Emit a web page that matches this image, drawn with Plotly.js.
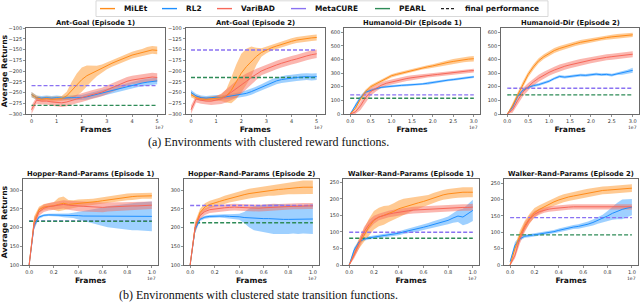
<!DOCTYPE html>
<html><head><meta charset="utf-8">
<script src="https://cdn.plot.ly/plotly-3.0.1.min.js"></script>
<style>html,body{margin:0;padding:0;background:#fff}#c{width:640px;height:302px}</style>
</head><body><div id="c"></div>
<script>
// ---------- categories / labels ----------
const methods = ["MiLEt", "RL2", "VariBAD", "MetaCURE", "PEARL"];
const titles = ["Ant-Goal (Episode 1)", "Ant-Goal (Episode 2)", "Humanoid-Dir (Episode 1)", "Humanoid-Dir (Episode 2)",
  "Hopper-Rand-Params (Episode 1)", "Hopper-Rand-Params (Episode 2)", "Walker-Rand-Params (Episode 1)", "Walker-Rand-Params (Episode 2)"];
const captionA = "(a) Environments with clustered reward functions.";
const captionB = "(b) Environments with clustered state transition functions.";

// ---------- x grids (units of 1e7 frames) ----------
const antX = [0,0.2,0.4,0.6,0.8,1.0,1.2,1.4,1.6,1.8,2.0,2.2,2.4,2.6,2.8,3.0,3.2,3.4,3.6,3.8,4.0,4.2,4.4,4.6,4.8,5.0];
const humX = [0,0.125,0.25,0.375,0.5,0.625,0.75,0.875,1.0,1.125,1.25,1.375,1.5,1.625,1.75,1.875,2.0,2.125,2.25,2.375,2.5,2.625,2.75,2.875,3.0];
const randX = [0,0.04,0.08,0.12,0.16,0.2,0.24,0.28,0.32,0.36,0.4,0.44,0.48,0.52,0.56,0.6,0.64,0.68,0.72,0.76,0.8,0.84,0.88,0.92,0.96,1.0];

// ---------- Ant-Goal Ep 1 ----------
const ant1_MiLEt = [-255,-262,-266,-264,-266,-265,-264,-258,-245,-232,-220,-211,-205,-200,-194,-188,-182,-177,-172,-167,-163,-160,-157,-153,-151,-152];
const ant1_MiLEt_sd = [6,5,5,5,6,6,6,10,20,26,28,24,18,12,9,8,8,8,8,8,8,8,8,9,9,9];
const ant1_RL2 = [-255,-262,-263,-262,-263,-262,-263,-262,-262,-262,-262,-260,-257,-254,-251,-248,-245,-242,-239,-236,-233,-230,-228,-226,-224,-223];
const ant1_RL2_sd = [6,5,5,5,5,5,5,5,6,6,6,7,7,7,7,7,7,7,7,8,8,8,8,8,8,8];
const ant1_VariBAD = [-290,-268,-270,-270,-272,-273,-274,-272,-268,-265,-262,-258,-255,-252,-249,-244,-239,-234,-229,-224,-221,-219,-217,-215,-214,-215];
const ant1_VariBAD_sd = [10,8,8,8,9,9,10,10,10,10,10,10,10,10,10,10,10,10,10,10,10,10,10,10,10,10];
// ---------- Ant-Goal Ep 2 ----------
const ant2_MiLEt = [-255,-262,-265,-266,-265,-264,-262,-258,-245,-225,-205,-190,-178,-166,-157,-151,-146,-142,-138,-134,-131,-128,-126,-124,-123,-122];
const ant2_MiLEt_sd = [6,5,5,5,6,6,8,15,30,40,45,42,35,20,10,8,7,7,7,7,7,7,7,7,7,7];
const ant2_RL2 = [-250,-258,-262,-263,-262,-261,-262,-260,-258,-257,-255,-252,-248,-243,-238,-232,-227,-223,-220,-218,-217,-215,-214,-213,-214,-213];
const ant2_RL2_sd = [6,5,5,5,5,5,5,5,6,6,6,7,7,7,7,8,8,8,8,8,8,8,8,8,8,8];
const ant2_VariBAD = [-290,-265,-268,-270,-270,-268,-265,-258,-250,-242,-233,-224,-215,-207,-200,-195,-190,-186,-182,-178,-175,-172,-168,-165,-162,-160];
const ant2_VariBAD_sd = [10,8,8,8,9,10,12,15,18,20,20,18,15,12,10,10,10,10,10,10,10,10,10,10,10,10];
// ---------- Humanoid-Dir Ep 1 ----------
const hum1_MiLEt = [0,40,110,165,200,220,240,262,280,290,300,308,318,330,338,345,352,362,370,378,385,392,398,402,405];
const hum1_MiLEt_sd = [0,10,15,15,12,12,12,12,12,12,12,12,12,12,12,13,13,14,15,16,17,18,19,20,20];
const hum1_RL2 = [0,60,120,160,175,185,195,200,205,207,210,212,213,216,220,225,232,238,242,248,252,258,263,268,272];
const hum1_RL2_sd = [0,15,15,12,10,8,8,8,8,8,8,8,8,8,8,10,10,8,8,8,8,8,8,8,8];
const hum1_VariBAD = [0,15,60,120,165,190,210,225,235,245,252,260,266,272,278,282,286,290,295,300,303,308,312,316,318];
const hum1_VariBAD_sd = [0,15,30,35,30,25,20,18,18,18,18,18,18,16,15,15,15,15,15,15,15,15,14,14,14];
// ---------- Humanoid-Dir Ep 2 ----------
const hum2_MiLEt = [0,60,140,220,290,345,390,420,445,465,480,493,505,515,525,533,540,548,555,560,565,570,574,578,580];
const hum2_MiLEt_sd = [0,15,20,20,20,20,18,18,18,18,18,18,17,17,17,16,16,16,16,16,16,16,16,16,16];
const hum2_RL2 = [0,50,130,175,195,208,215,225,240,260,275,270,275,280,285,283,290,292,288,290,285,295,300,310,320];
const hum2_RL2_sd = [0,15,15,12,10,10,10,10,10,10,10,10,10,10,10,10,10,10,10,10,10,10,12,15,18];
const hum2_VariBAD = [0,30,100,160,200,235,262,285,305,322,338,350,360,370,378,387,395,402,410,415,420,425,430,435,438];
const hum2_VariBAD_sd = [0,20,30,30,28,26,25,25,25,25,25,25,24,24,24,23,23,22,22,22,22,22,22,22,22];
// ---------- Hopper-Rand-Params Ep 1 ----------
const hop1_MiLEt = [100,215,248,255,257,258,262,265,262,263,265,266,268,268,270,272,274,277,279,280,282,283,284,285,285,285];
const hop1_MiLEt_sd = [3,15,8,8,8,10,18,18,12,10,10,9,9,9,9,9,9,9,9,9,9,9,8,8,8,8];
const hop1_RL2 = [100,205,228,233,234,234,233,232,233,233,232,231,231,230,230,229,229,229,229,229,229,229,230,230,230,230];
const hop1_RL2_sd = [3,10,4,3,3,3,3,4,5,7,10,13,16,18,22,25,28,30,32,34,35,36,37,38,39,40];
const hop1_VariBAD = [100,210,242,252,256,258,260,262,260,258,258,257,256,255,255,254,255,256,256,257,257,258,258,259,259,260];
const hop1_VariBAD_sd = [3,15,10,10,10,10,10,11,12,13,14,14,14,14,13,13,12,12,12,11,11,10,10,10,10,10];
// ---------- Hopper-Rand-Params Ep 2 ----------
const hop2_MiLEt = [100,200,240,255,262,265,270,274,278,282,285,288,291,293,295,297,299,300,302,303,305,306,307,308,308,308];
const hop2_MiLEt_sd = [3,15,10,10,10,10,10,11,11,12,12,12,13,13,13,14,14,15,15,16,16,17,17,18,18,18];
const hop2_RL2 = [100,195,222,228,230,231,231,231,230,230,229,227,226,225,225,224,224,223,223,222,222,222,221,222,222,223];
const hop2_RL2_sd = [3,10,4,4,4,4,4,5,6,6,8,15,25,32,35,37,38,40,40,40,39,38,38,38,39,40];
const hop2_VariBAD = [100,200,232,243,248,250,252,253,254,255,254,253,253,252,252,253,254,255,255,256,256,257,257,258,258,258];
const hop2_VariBAD_sd = [3,12,10,9,9,9,9,9,9,9,9,9,9,9,9,9,9,9,8,8,8,8,8,8,8,8];
// ---------- Walker-Rand-Params Ep 1 ----------
const wal1_MiLEt = [0,35,65,90,115,135,145,150,155,162,170,175,180,185,188,192,197,203,208,212,215,217,218,220,220,220];
const wal1_MiLEt_sd = [2,10,15,20,25,28,28,28,25,25,25,25,22,20,18,16,15,15,15,15,15,15,15,15,15,15];
const wal1_RL2 = [0,45,70,78,82,84,86,88,90,93,96,100,103,106,110,114,118,122,126,130,135,142,148,145,155,165];
const wal1_RL2_sd = [2,8,5,5,5,5,5,5,5,6,6,6,7,7,8,8,9,10,10,11,12,14,18,25,30,32];
const wal1_VariBAD = [0,30,65,100,122,137,145,150,154,157,160,162,164,166,167,168,169,170,170,171,172,172,173,174,174,175];
const wal1_VariBAD_sd = [2,10,15,15,14,12,10,10,10,10,10,10,10,10,10,10,10,10,10,10,10,10,10,10,10,10];
// ---------- Walker-Rand-Params Ep 2 ----------
const wal2_MiLEt = [0,50,90,120,142,160,170,178,186,193,199,204,208,211,214,218,221,224,226,228,229,230,232,233,234,235];
const wal2_MiLEt_sd = [2,10,15,15,15,14,13,12,12,12,12,12,12,12,12,12,12,12,12,12,12,12,12,12,12,12];
const wal2_RL2 = [10,60,80,88,90,92,94,96,98,102,106,110,113,116,118,121,125,130,136,142,150,158,165,170,174,177];
const wal2_RL2_sd = [3,10,6,5,5,5,5,5,5,5,6,6,6,6,7,7,8,9,10,12,15,20,25,30,28,25];
const wal2_VariBAD = [0,30,80,115,140,155,163,168,171,173,175,176,177,178,178,179,179,180,180,180,180,179,179,178,178,178];
const wal2_VariBAD_sd = [2,10,15,15,12,10,9,8,8,8,8,8,8,8,8,8,8,8,8,8,8,8,8,8,8,8];

// ---------- final performance (horizontal dashed lines) ----------
const metacureFinal = [-234, -151, 140, 189, 218, 259, 99, 145];
const pearlFinal    = [-280, -215, 115, 140, 217, 213, 81, 92];

// ---------- tick labels ----------
const antTicks = [0,1,2,3,4,5];
const antTickText = ["0","1","2","3","4","5"];
const humTicks = [0,0.5,1,1.5,2,2.5,3];
const humTickText = ["0.0","0.5","1.0","1.5","2.0","2.5","3.0"];
const randTicks = [0,0.2,0.4,0.6,0.8,1.0];
const randTickText = ["0.0","0.2","0.4","0.6","0.8","1.0"];
const antYTicks = [-300,-275,-250,-225,-200,-175,-150,-125,-100];
const humYTicks = [0,100,200,300,400,500,600];
const hopYTicks = [100,150,200,250,300];
const walYTicks = [0,50,100,150,200,250];

// ---------- assemble panels ----------
const W = 640, H = 302;
const panels = [
  {x: antX, m: [ant1_MiLEt, ant1_RL2, ant1_VariBAD], s: [ant1_MiLEt_sd, ant1_RL2_sd, ant1_VariBAD_sd], xt: antTicks, xtt: antTickText, yt: antYTicks, xr: [-0.22, 5.33], yr: [-300, -100], px: [26, 165.5], py: [28, 114]},
  {x: antX, m: [ant2_MiLEt, ant2_RL2, ant2_VariBAD], s: [ant2_MiLEt_sd, ant2_RL2_sd, ant2_VariBAD_sd], xt: antTicks, xtt: antTickText, yt: antYTicks, xr: [-0.22, 5.33], yr: [-300, -100], px: [185.5, 325], py: [28, 114]},
  {x: humX, m: [hum1_MiLEt, hum1_RL2, hum1_VariBAD], s: [hum1_MiLEt_sd, hum1_RL2_sd, hum1_VariBAD_sd], xt: humTicks, xtt: humTickText, yt: humYTicks, xr: [-0.15, 3.15], yr: [0, 630], px: [344, 480], py: [28, 114]},
  {x: humX, m: [hum2_MiLEt, hum2_RL2, hum2_VariBAD], s: [hum2_MiLEt_sd, hum2_RL2_sd, hum2_VariBAD_sd], xt: humTicks, xtt: humTickText, yt: humYTicks, xr: [-0.15, 3.15], yr: [0, 630], px: [501, 639], py: [28, 114]},
  {x: randX, m: [hop1_MiLEt, hop1_RL2, hop1_VariBAD], s: [hop1_MiLEt_sd, hop1_RL2_sd, hop1_VariBAD_sd], xt: randTicks, xtt: randTickText, yt: hopYTicks, xr: [-0.05, 1.05], yr: [100, 330], px: [23, 158], py: [179, 265]},
  {x: randX, m: [hop2_MiLEt, hop2_RL2, hop2_VariBAD], s: [hop2_MiLEt_sd, hop2_RL2_sd, hop2_VariBAD_sd], xt: randTicks, xtt: randTickText, yt: hopYTicks, xr: [-0.05, 1.05], yr: [100, 330], px: [184, 319], py: [179, 265]},
  {x: randX, m: [wal1_MiLEt, wal1_RL2, wal1_VariBAD], s: [wal1_MiLEt_sd, wal1_RL2_sd, wal1_VariBAD_sd], xt: randTicks, xtt: randTickText, yt: walYTicks, xr: [-0.05, 1.05], yr: [0, 260], px: [343, 479], py: [179, 265]},
  {x: randX, m: [wal2_MiLEt, wal2_RL2, wal2_VariBAD], s: [wal2_MiLEt_sd, wal2_RL2_sd, wal2_VariBAD_sd], xt: randTicks, xtt: randTickText, yt: walYTicks, xr: [-0.05, 1.05], yr: [0, 263], px: [504, 638], py: [179, 265]}
];

const lineColors = ["#ff8c1a", "#1e8fff", "#f7685a"];
const bandColors = ["rgba(255,150,40,0.5)", "rgba(40,150,255,0.45)", "rgba(248,110,95,0.5)"];
const metaColor = "#8a72f2", pearlColor = "#2e8b57";
const drawOrder = [1, 0, 2];

const traces = [];
const layout = {
  width: W, height: H, margin: {l: 0, r: 0, t: 0, b: 0},
  paper_bgcolor: "#fff", plot_bgcolor: "#fff", showlegend: false,
  font: {family: "DejaVu Sans", color: "#222"},
  annotations: [], shapes: []
};
const bold = (size) => ({family: "DejaVu Sans", size: size, weight: "bold", color: "#111"});

panels.forEach((p, i) => {
  const k = i === 0 ? "" : String(i + 1);
  const xa = "x" + k, ya = "y" + k;
  drawOrder.forEach(j => {
    const lo = p.m[j].map((v, t) => v - p.s[j][t]);
    const hi = p.m[j].map((v, t) => v + p.s[j][t]);
    traces.push({x: p.x, y: lo, xaxis: xa, yaxis: ya, mode: "lines", line: {width: 0}, hoverinfo: "skip", showlegend: false});
    traces.push({x: p.x, y: hi, xaxis: xa, yaxis: ya, mode: "lines", line: {width: 0}, fill: "tonexty", fillcolor: bandColors[j], hoverinfo: "skip", showlegend: false});
  });
  const x0 = p.x[0], x1 = p.x[p.x.length - 1];
  traces.push({x: [x0, x1], y: [metacureFinal[i], metacureFinal[i]], xaxis: xa, yaxis: ya, mode: "lines", name: methods[3], line: {color: metaColor, width: 1.4, dash: "4px,2px"}});
  traces.push({x: [x0, x1], y: [pearlFinal[i], pearlFinal[i]], xaxis: xa, yaxis: ya, mode: "lines", name: methods[4], line: {color: pearlColor, width: 1.4, dash: "4px,2px"}});
  drawOrder.forEach(j => {
    traces.push({x: p.x, y: p.m[j], xaxis: xa, yaxis: ya, mode: "lines", name: methods[j], line: {color: lineColors[j], width: 1}});
  });

  const common = {showgrid: false, zeroline: false, showline: true, mirror: true, linecolor: "#444", linewidth: 0.8,
    ticks: "outside", ticklen: 2, tickwidth: 0.6, tickcolor: "#444", tickfont: {family: "DejaVu Sans", size: 5, color: "#333"}};
  layout["xaxis" + k] = Object.assign({}, common, {
    domain: [p.px[0] / W, p.px[1] / W], anchor: ya, range: p.xr, tickmode: "array", tickvals: p.xt, ticktext: p.xtt,
    title: {text: "Frames", font: bold(7.6), standoff: 3}
  });
  layout["yaxis" + k] = Object.assign({}, common, {
    domain: [1 - p.py[1] / H, 1 - p.py[0] / H], anchor: xa, range: p.yr, tickmode: "array", tickvals: p.yt,
    title: (i % 4 === 0) ? {text: "Average Returns", font: bold(7.7), standoff: 4} : {text: ""}
  });
  layout.annotations.push({text: titles[i], xref: "paper", yref: "paper", x: (p.px[0] + p.px[1]) / 2 / W, y: 1 - (p.py[0] - 5) / H,
    xanchor: "center", yanchor: "middle", showarrow: false, font: bold(6.8)});
  layout.annotations.push({text: "1e7", xref: "paper", yref: "paper", x: p.px[1] / W, y: 1 - (p.py[1] + 13.5) / H,
    xanchor: "right", yanchor: "middle", showarrow: false, font: {family: "DejaVu Sans", size: 4.5, color: "#333"}});
});

layout.annotations.push({text: captionA, xref: "paper", yref: "paper", x: 146 / W, y: 1 - 142 / H, xanchor: "left", yanchor: "middle",
  showarrow: false, font: {family: "Liberation Serif", size: 12, color: "#111"}});
layout.annotations.push({text: captionB, xref: "paper", yref: "paper", x: 117 / W, y: 1 - 295 / H, xanchor: "left", yanchor: "middle",
  showarrow: false, font: {family: "Liberation Serif", size: 12, color: "#111"}});

const legendItems = [
  {name: methods[0], color: lineColors[0], dash: "solid", lx: 100},
  {name: methods[1], color: lineColors[1], dash: "solid", lx: 162},
  {name: methods[2], color: lineColors[2], dash: "solid", lx: 217},
  {name: methods[3], color: metaColor, dash: "solid", lx: 291},
  {name: methods[4], color: pearlColor, dash: "solid", lx: 375},
  {name: "final performance", color: "#222", dash: "3px,2px", lx: 441}
];
layout.shapes.push({type: "rect", xref: "paper", yref: "paper", x0: 96 / W, x1: 548 / W, y0: 1 - 16.5 / H, y1: 1 - 0.8 / H,
  line: {color: "#cfcfcf", width: 0.8}, fillcolor: "rgba(255,255,255,0.9)", layer: "above"});
legendItems.forEach(it => {
  layout.shapes.push({type: "line", xref: "paper", yref: "paper", x0: it.lx / W, x1: (it.lx + 15) / W, y0: 1 - 8.6 / H, y1: 1 - 8.6 / H,
    line: {color: it.color, width: 1.4, dash: it.dash}, layer: "above"});
  layout.annotations.push({text: it.name, xref: "paper", yref: "paper", x: (it.lx + 22) / W, y: 1 - 8.6 / H, xanchor: "left", yanchor: "middle",
    showarrow: false, font: bold(7.4)});
});

Plotly.newPlot("c", traces, layout, {staticPlot: true, displayModeBar: false});
</script></body></html>
